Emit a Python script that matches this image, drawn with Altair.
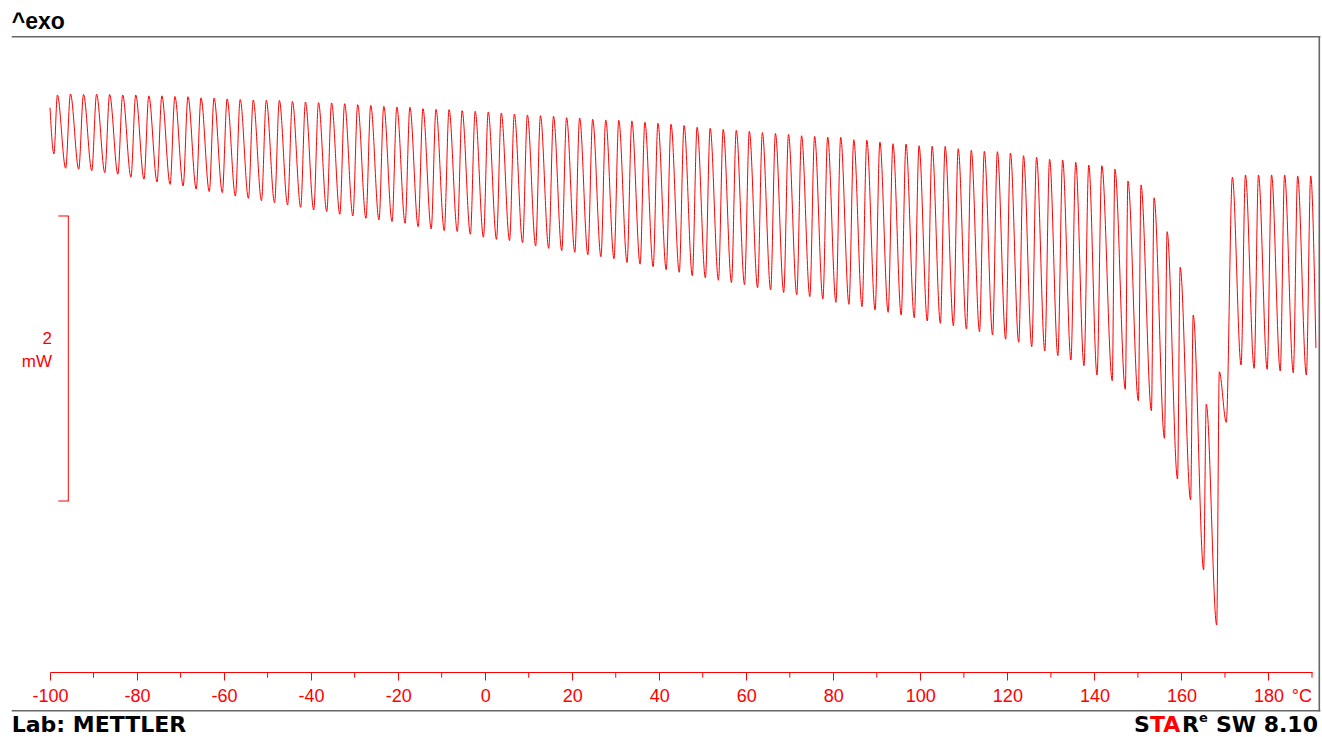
import altair as alt
import pandas as pd

RED = "#ff0000"
FRAME = "#666666"

# Modulated DSC heat flow: one maximum and one minimum per modulation cycle
PEAK_T = [-98.3, -95.3, -92.3, -89.3, -86.3, -83.3, -80.3, -77.3, -74.3, -71.3,
          -68.3, -65.3, -62.3, -59.3, -56.3, -53.3, -50.3, -47.3, -44.3, -41.3,
          -38.3, -35.3, -32.3, -29.3, -26.3, -23.3, -20.3, -17.3, -14.3, -11.3,
          -8.3, -5.3, -2.3, 0.7, 3.7, 6.7, 9.7, 12.7, 15.7, 18.7,
          21.7, 24.7, 27.7, 30.7, 33.7, 36.7, 39.7, 42.7, 45.7, 48.7,
          51.7, 54.7, 57.7, 60.7, 63.7, 66.7, 69.7, 72.7, 75.7, 78.7,
          81.7, 84.7, 87.7, 90.7, 93.7, 96.7, 99.7, 102.7, 105.7, 108.7,
          111.7, 114.7, 117.7, 120.7, 123.7, 126.7, 129.7, 132.7, 135.7, 138.7,
          141.7, 144.7, 147.7, 150.7, 153.7, 156.7, 159.7, 162.7, 165.7, 168.7,
          171.7, 174.7, 177.7, 180.7, 183.7, 186.7, 189.7]

PEAK_MW = [-0.951, -0.944, -0.947, -0.946, -0.947, -0.951, -0.951, -0.957, -0.957, -0.961,
           -0.963, -0.971, -0.973, -0.979, -0.982, -0.986, -0.988, -0.989, -0.995, -1.000,
           -1.005, -1.007, -1.012, -1.019, -1.023, -1.030, -1.035, -1.037, -1.047, -1.051,
           -1.054, -1.061, -1.065, -1.070, -1.077, -1.084, -1.091, -1.096, -1.100, -1.110,
           -1.112, -1.121, -1.126, -1.128, -1.133, -1.142, -1.149, -1.156, -1.165, -1.177,
           -1.184, -1.192, -1.199, -1.206, -1.215, -1.221, -1.228, -1.237, -1.241, -1.246,
           -1.248, -1.265, -1.268, -1.281, -1.293, -1.295, -1.307, -1.311, -1.312, -1.328,
           -1.339, -1.346, -1.349, -1.358, -1.377, -1.388, -1.402, -1.407, -1.423, -1.442,
           -1.447, -1.472, -1.554, -1.582, -1.672, -1.910, -2.160, -2.495, -3.121, -2.893,
           -1.528, -1.512, -1.512, -1.512, -1.512, -1.519, -1.519]

TROUGH_T = [-96.4, -93.4, -90.4, -87.4, -84.4, -81.4, -78.4, -75.4, -72.4, -69.4,
            -66.4, -63.4, -60.4, -57.4, -54.4, -51.4, -48.4, -45.4, -42.4, -39.4,
            -36.4, -33.4, -30.4, -27.4, -24.4, -21.4, -18.4, -15.4, -12.4, -9.4,
            -6.4, -3.4, -0.4, 2.6, 5.6, 8.6, 11.6, 14.6, 17.6, 20.6,
            23.6, 26.6, 29.6, 32.6, 35.6, 38.6, 41.6, 44.6, 47.6, 50.6,
            53.6, 56.6, 59.6, 62.6, 65.6, 68.6, 71.6, 74.6, 77.6, 80.6,
            83.6, 86.6, 89.6, 92.6, 95.6, 98.6, 101.6, 104.6, 107.6, 110.6,
            113.6, 116.6, 119.6, 122.6, 125.6, 128.6, 131.6, 134.6, 137.6, 140.6,
            144.1, 147.1, 150.1, 153.1, 156.1, 159.1, 162.1, 165.1, 168.1, 170.3,
            173.7, 176.7, 179.7, 182.7, 185.7, 188.7]

TROUGH_MW = [-1.465, -1.472, -1.482, -1.496, -1.507, -1.528, -1.542, -1.561, -1.578, -1.589,
             -1.611, -1.629, -1.636, -1.660, -1.676, -1.693, -1.707, -1.723, -1.739, -1.758,
             -1.770, -1.788, -1.800, -1.816, -1.828, -1.840, -1.851, -1.875, -1.891, -1.903,
             -1.910, -1.928, -1.949, -1.964, -1.973, -1.987, -2.011, -2.027, -2.044, -2.055,
             -2.072, -2.086, -2.100, -2.126, -2.138, -2.156, -2.177, -2.195, -2.219, -2.235,
             -2.251, -2.267, -2.281, -2.304, -2.319, -2.337, -2.352, -2.366, -2.382, -2.406,
             -2.420, -2.436, -2.460, -2.476, -2.495, -2.514, -2.537, -2.553, -2.570, -2.593,
             -2.612, -2.635, -2.665, -2.686, -2.717, -2.747, -2.780, -2.811, -2.851, -2.916,
             -2.956, -3.016, -3.096, -3.166, -3.360, -3.646, -3.793, -4.284, -4.670, -3.248,
             -2.846, -2.869, -2.876, -2.888, -2.900, -2.916]

START = (-100.0, -1.040)
FIRST_DIP = (-99.1, -1.365)
END = (190.9, -2.726)

MAJOR_TICKS = [-100, -80, -60, -40, -20, 0, 20, 40, 60, 80, 100, 120, 140, 160, 180]
MINOR_TICKS = [-90, -70, -50, -30, -10, 10, 30, 50, 70, 90, 110, 130, 150, 170, 190]
SCALE_BAR_MW = [-3.8, -1.8]

# assemble the trace in temperature order
rows = [START, FIRST_DIP]
for i, (t, v) in enumerate(zip(PEAK_T, PEAK_MW)):
    rows.append((t, v))
    if i < len(TROUGH_T):
        rows.append((TROUGH_T[i], TROUGH_MW[i]))
rows.append(END)
curve = pd.DataFrame(rows, columns=["temp", "hf"])
curve["order"] = range(len(curve))

x_scale = alt.Scale(domain=[-100, 190], nice=False, zero=False)
y_scale = alt.Scale(domain=[-5.0, -0.544], nice=False, zero=False)

x_axis = alt.Axis(
    values=MAJOR_TICKS, title=None, grid=False,
    tickSize=8, tickWidth=1, tickColor=RED,
    domainColor=RED, domainWidth=1,
    labelColor=RED, labelFont="Liberation Sans", labelFontSize=18,
    labelPadding=7, labelFlush=False, labelOverlap=False,
    labelExpr="(datum.value < 0 ? '-' : '') + abs(datum.value)",
)

trace = alt.Chart(curve).mark_line(
    color=RED, strokeWidth=1, interpolate="monotone"
).encode(
    x=alt.X("temp:Q", scale=x_scale, axis=x_axis),
    y=alt.Y("hf:Q", scale=y_scale, axis=None),
    order="order:Q",
)

minor = alt.Chart(pd.DataFrame({"t": MINOR_TICKS})).mark_rule(
    color=RED, strokeWidth=1
).encode(
    x=alt.X("t:Q", scale=x_scale),
    y=alt.value(635), y2=alt.value(640.7),
)

one = alt.Data(values=[{"k": 0}])

# 2 mW scale bar
bar_df = pd.DataFrame({"lo": [SCALE_BAR_MW[0]], "hi": [SCALE_BAR_MW[1]]})
bar = alt.Chart(bar_df).mark_rule(color=RED, strokeWidth=1).encode(
    x=alt.value(18.3),
    y=alt.Y("lo:Q", scale=y_scale),
    y2="hi:Q",
)
bar_ends = alt.Chart(pd.DataFrame({"v": SCALE_BAR_MW})).mark_rule(
    color=RED, strokeWidth=1
).encode(
    x=alt.value(8.3), x2=alt.value(18.8),
    y=alt.Y("v:Q", scale=y_scale),
)


def label(text, x, y, size, color="black", weight="normal",
          font="Liberation Sans", align="left"):
    return alt.Chart(one).mark_text(
        text=text, align=align, baseline="alphabetic", font=font,
        fontSize=size, fontWeight=weight, color=color,
    ).encode(x=alt.value(x), y=alt.value(y))


def hline(x1, x2, y, width=1.6):
    return alt.Chart(one).mark_rule(color=FRAME, strokeWidth=width).encode(
        x=alt.value(x1), x2=alt.value(x2), y=alt.value(y))


def vline(x, y1, y2, width=1.6):
    return alt.Chart(one).mark_rule(color=FRAME, strokeWidth=width).encode(
        x=alt.value(x), y=alt.value(y1), y2=alt.value(y2))


BOLD = "DejaVu Sans"
texts = [
    label("^exo", -38.3, -7.7, 23, weight="bold"),
    label("2", 2, 307, 17, color=RED, align="right"),
    label("mW", 2, 330, 17, color=RED, align="right"),
    label("°C", 1262, 664.7, 18, color=RED, align="right"),
    label("Lab: METTLER", -38.3, 694.5, 22, weight="bold", font=BOLD),
    label("S", 1084.0, 694.5, 22, weight="bold", font=BOLD),
    label("TA", 1099.9, 694.5, 22, weight="bold", font=BOLD, color=RED),
    label("R", 1131.9, 694.5, 22, weight="bold", font=BOLD),
    label("e", 1148.9, 685, 13, weight="bold", font=BOLD),
    label("SW 8.10", 1268, 694.5, 22, weight="bold", font=BOLD, align="right"),
]

frame = [
    hline(-38.3, 1270.3, -0.2),
    vline(1269.3, -1.0, 674.6),
    hline(-38.3, 1270.3, 673.8),
]

chart = alt.layer(
    trace, minor, bar, bar_ends, *frame, *texts
).properties(
    width=1262, height=635,
    padding={"left": 50, "top": 37, "right": 10, "bottom": 65},
    autosize=alt.AutoSizeParams(type="none"),
    background="white",
).configure_view(strokeWidth=0)

chart.save("out.html", embed_options={"renderer": "svg", "actions": False})
